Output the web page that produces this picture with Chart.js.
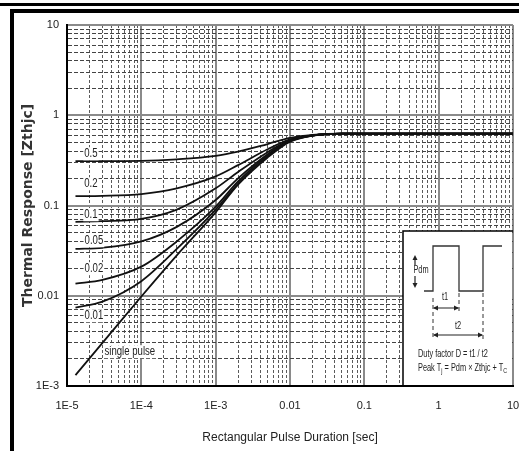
<!DOCTYPE html>
<html>
<head>
<meta charset="utf-8">
<script src="https://cdn.jsdelivr.net/npm/chart.js@4.4.1/dist/chart.umd.min.js"></script>
<style>
  body { margin: 0; background: #fff; }
  #wrap { position: relative; width: 519px; height: 451px; overflow: hidden; background: #fff; }
  #chart { position: absolute; left: 0; top: 0; }
  .bar { position: absolute; background: #000; }
</style>
</head>
<body>
<div id="wrap">
  <canvas id="chart" width="519" height="451"></canvas>
  <div class="bar" style="left:0;top:3px;width:519px;height:3px"></div>
  <div class="bar" style="left:10px;top:9px;width:509px;height:4px"></div>
  <div class="bar" style="left:10px;top:9px;width:4px;height:442px"></div>
</div>
<script>
const durations = [1.3e-5, 3e-5, 1e-4, 3e-4, 1e-3, 2e-3, 5e-3, 1e-2, 2e-2, 5e-2, 10];

// Zthjc for each duty factor
const duty05 = [0.31, 0.31, 0.312, 0.325, 0.355, 0.395, 0.48, 0.56, 0.605, 0.625, 0.625];
const duty02 = [0.127, 0.128, 0.134, 0.155, 0.21, 0.28, 0.42, 0.54, 0.6, 0.625, 0.625];
const duty01 = [0.066, 0.067, 0.071, 0.09, 0.155, 0.235, 0.39, 0.53, 0.6, 0.625, 0.625];
const duty005 = [0.033, 0.034, 0.04, 0.058, 0.115, 0.2, 0.37, 0.525, 0.595, 0.625, 0.625];
const duty002 = [0.0136, 0.015, 0.021, 0.04, 0.097, 0.185, 0.36, 0.52, 0.595, 0.625, 0.625];
const duty001 = [0.0074, 0.0086, 0.0145, 0.033, 0.09, 0.175, 0.35, 0.515, 0.595, 0.625, 0.625];
const singlePulse = [0.00132, 0.003, 0.0098, 0.028, 0.084, 0.17, 0.34, 0.51, 0.595, 0.625, 0.625];

const curveNames = ['0.5', '0.2', '0.1', '0.05', '0.02', '0.01', 'single pulse'];
const curveValues = [duty05, duty02, duty01, duty005, duty002, duty001, singlePulse];

const xDecades = [1e-5, 1e-4, 1e-3, 1e-2, 1e-1, 1, 10];
const xTickLabels = ['1E-5', '1E-4', '1E-3', '0.01', '0.1', '1', '10'];
const yDecades = [1e-3, 1e-2, 1e-1, 1, 10];
const yTickLabels = ['1E-3', '0.01', '0.1', '1', '10'];

// where the curve names sit (data coords)
const nameSpots = [[2.1e-5, 0.379], [2.1e-5, 0.176], [2.1e-5, 0.080], [2.3e-5, 0.0412],
                   [2.3e-5, 0.0202], [2.3e-5, 0.00608], [7.0e-5, 0.00243]];

const sans = '"Liberation Sans", Arial, sans-serif';

// grid ticks: every decade plus 2..9 in between
function withMinors(decades) {
  const out = [];
  decades.forEach((d, i) => {
    out.push(d);
    if (i < decades.length - 1) {
      for (let m = 2; m <= 9; m++) out.push(d * m);
    }
  });
  return out;
}
const xTickValues = withMinors(xDecades);
const yTickValues = withMinors(yDecades);

function isDecade(v) {
  const l = Math.log10(v);
  return Math.abs(l - Math.round(l)) < 1e-6;
}
function decadeLabel(v, decades, labels) {
  if (!isDecade(v)) return '';
  const i = decades.findIndex(d => Math.abs(Math.log10(d) - Math.log10(v)) < 1e-6);
  return i >= 0 ? labels[i] : '';
}

// narrow-looking text: squeeze horizontally
function squeezed(ctx, s, x, y, sx) {
  ctx.save();
  ctx.translate(x, y);
  ctx.scale(sx, 1);
  ctx.fillText(s, 0, 0);
  ctx.restore();
  return ctx.measureText(s).width * sx;
}

const curveNamePlugin = {
  id: 'curveNames',
  afterDatasetsDraw(chart) {
    const { ctx, scales } = chart;
    ctx.save();
    ctx.font = '12px ' + sans;
    ctx.textAlign = 'center';
    ctx.textBaseline = 'middle';
    curveNames.forEach((name, i) => {
      const px = scales.x.getPixelForValue(nameSpots[i][0]);
      const py = scales.y.getPixelForValue(nameSpots[i][1]);
      const w = ctx.measureText(name).width * 0.8;
      ctx.fillStyle = '#fff';
      ctx.fillRect(px - w / 2 - 1, py - 6, w + 2, 13);
      ctx.fillStyle = '#222';
      squeezed(ctx, name, px, py, 0.8);
    });
    ctx.restore();
  }
};

function arrowHead(ctx, x, y, dx, dy) {
  ctx.beginPath();
  ctx.moveTo(x, y);
  ctx.lineTo(x - dx * 5 - dy * 2.5, y - dy * 5 - dx * 2.5);
  ctx.lineTo(x - dx * 5 + dy * 2.5, y - dy * 5 + dx * 2.5);
  ctx.closePath();
  ctx.fill();
}

const insetPlugin = {
  id: 'inset',
  afterDatasetsDraw(chart) {
    const { ctx, chartArea: a } = chart;
    const bx = a.right - 110, by = a.bottom - 155;
    ctx.save();
    ctx.fillStyle = '#fff';
    ctx.fillRect(bx, by, a.right - bx - 1, a.bottom - by - 1);
    ctx.strokeStyle = '#000';
    ctx.lineWidth = 1.5;
    ctx.beginPath();
    ctx.moveTo(bx, a.bottom);
    ctx.lineTo(bx, by);
    ctx.lineTo(a.right, by);
    ctx.stroke();

    // pulse train
    ctx.strokeStyle = '#333';
    ctx.lineWidth = 1.3;
    const lo = by + 60, hi = by + 15;
    ctx.beginPath();
    ctx.moveTo(bx + 21, lo);
    ctx.lineTo(bx + 30, lo);
    ctx.lineTo(bx + 30, hi);
    ctx.lineTo(bx + 56, hi);
    ctx.lineTo(bx + 56, lo);
    ctx.lineTo(bx + 80, lo);
    ctx.lineTo(bx + 80, hi);
    ctx.lineTo(bx + 99, hi);
    ctx.stroke();

    // dashed guides
    ctx.setLineDash([4, 3]);
    ctx.lineWidth = 1;
    ctx.beginPath();
    ctx.moveTo(bx + 30, by + 67); ctx.lineTo(bx + 30, by + 109);
    ctx.moveTo(bx + 56, by + 62); ctx.lineTo(bx + 56, by + 83);
    ctx.moveTo(bx + 80, by + 62); ctx.lineTo(bx + 80, by + 109);
    ctx.stroke();
    ctx.setLineDash([]);

    // arrows
    ctx.fillStyle = '#222';
    ctx.strokeStyle = '#222';
    ctx.lineWidth = 1.2;
    ctx.beginPath();
    ctx.moveTo(bx + 12, by + 34); ctx.lineTo(bx + 12, by + 26);
    ctx.moveTo(bx + 12, by + 45); ctx.lineTo(bx + 12, by + 55);
    ctx.moveTo(bx + 31, by + 77); ctx.lineTo(bx + 55, by + 77);
    ctx.moveTo(bx + 31, by + 104); ctx.lineTo(bx + 79, by + 104);
    ctx.stroke();
    arrowHead(ctx, bx + 12, by + 24, 0, -1);
    arrowHead(ctx, bx + 12, by + 57, 0, 1);
    arrowHead(ctx, bx + 30, by + 77, -1, 0);
    arrowHead(ctx, bx + 56, by + 77, 1, 0);
    arrowHead(ctx, bx + 30, by + 104, -1, 0);
    arrowHead(ctx, bx + 80, by + 104, 1, 0);

    // texts
    const sx = 0.67;
    ctx.fillStyle = '#222';
    ctx.font = '11px ' + sans;
    ctx.textBaseline = 'middle';
    ctx.textAlign = 'center';
    squeezed(ctx, 'Pdm', bx + 18, by + 39, sx);
    squeezed(ctx, 't1', bx + 42, by + 66, sx);
    squeezed(ctx, 't2', bx + 55, by + 95, sx);
    ctx.textAlign = 'left';
    squeezed(ctx, 'Duty factor D = t1 / t2', bx + 15, by + 123, sx);
    let x = bx + 15;
    const y = by + 137;
    const put = (s, size, dy) => {
      ctx.font = size + 'px ' + sans;
      x += squeezed(ctx, s, x, y + dy, sx);
    };
    put('Peak T', 11, 0);
    put('j', 8, 3);
    put(' = Pdm \u00d7 Zthjc + T', 11, 0);
    put('C', 8, 3);
    ctx.restore();
  }
};

function gridFor(minorColor) {
  return {
    color: c => (c.tick && isDecade(c.tick.value)) ? '#8a8a8a' : minorColor,
    lineWidth: c => (c.tick && isDecade(c.tick.value)) ? 2 : 1,
    drawTicks: false
  };
}

const ctx = document.getElementById('chart').getContext('2d');
new Chart(ctx, {
  type: 'line',
  data: {
    datasets: curveValues.map((vals, i) => ({
      label: curveNames[i],
      data: durations.map((d, j) => ({ x: d, y: vals[j] }))
    }))
  },
  options: {
    responsive: false,
    animation: false,
    layout: { padding: { top: 25, right: 6, bottom: 0, left: 0 } },
    plugins: { legend: { display: false }, tooltip: { enabled: false } },
    elements: {
      point: { radius: 0 },
      line: { borderColor: '#111', borderWidth: 1.8, cubicInterpolationMode: 'monotone', fill: false }
    },
    scales: {
      x: {
        type: 'logarithmic',
        min: 1e-5,
        max: 10,
        afterBuildTicks: ax => { ax.ticks = xTickValues.map(v => ({ value: v })); },
        afterFit: s => { s.height = 65; s.paddingLeft = 0; s.paddingRight = 0; },
        ticks: {
          autoSkip: false,
          maxRotation: 0,
          padding: 13,
          color: '#222',
          font: { family: sans, size: 11 },
          callback: v => decadeLabel(v, xDecades, xTickLabels)
        },
        grid: gridFor('#5a5a5a'),
        border: {
          color: '#000',
          width: 2,
          dash: c => (c.tick && !isDecade(c.tick.value)) ? [3, 2] : []
        },
        title: {
          display: true,
          text: 'Rectangular Pulse Duration [sec]',
          color: '#222',
          font: { family: sans, size: 12 },
          padding: { top: 0, bottom: 6 }
        }
      },
      y: {
        type: 'logarithmic',
        min: 1e-3,
        max: 10,
        afterBuildTicks: ax => { ax.ticks = yTickValues.map(v => ({ value: v })); },
        afterFit: s => { s.width = 67; },
        ticks: {
          autoSkip: false,
          padding: 8,
          color: '#222',
          font: { family: sans, size: 11 },
          callback: v => decadeLabel(v, yDecades, yTickLabels)
        },
        grid: gridFor('#444'),
        border: {
          color: '#000',
          width: 2,
          dash: c => (c.tick && !isDecade(c.tick.value)) ? [4, 2] : []
        },
        title: {
          display: true,
          text: 'Thermal Response [Zthjc]',
          color: '#333',
          font: { family: '"DejaVu Sans", sans-serif', size: 14, weight: 'bold' },
          padding: { top: 20, bottom: 0 }
        }
      }
    }
  },
  plugins: [curveNamePlugin, insetPlugin]
});
</script>
</body>
</html>
